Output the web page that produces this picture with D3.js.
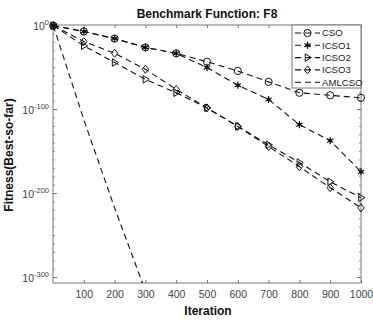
<!DOCTYPE html>
<html><head><meta charset="utf-8">
<script src="https://cdn.jsdelivr.net/npm/d3@7/dist/d3.min.js"></script>
<style>body{margin:0;background:#fff}svg{display:block}text{font-family:Arial,"Liberation Sans",sans-serif}</style>
</head><body><svg id="c" width="373" height="322"></svg>
<script>
// Data: exponents of fitness (log10), iterations
const iterations = [1,100,200,300,400,500,600,700,800,900,1000];
const CSO   = [0,-7,-15.5,-26,-33,-43,-54,-67,-80,-83,-86];
const ICSO1 = [0,-7,-15.5,-26,-33,-50,-71,-88,-118,-137,-174];
const ICSO2 = [0,-24,-44,-64,-80,-98,-120,-142,-163,-186,-205];
const ICSO3 = [0,-19,-33,-52,-76,-98,-120,-144,-168,-193,-217];
const amlIter = [1,100,200,290,300];
const AMLCSO = [0,-112,-217,-306,-317];
const xTicks = [100,200,300,400,500,600,700,800,900,1000];
const yTicks = [0,-100,-200,-300];
const seriesNames = ["CSO","ICSO1","ICSO2","ICSO3","AMLCSO"];
const markers = ["circle","asterisk","triangle","diamond","none"];

const svg = d3.select("#c");
const L=53,R=361,T=25,B=283;
const x = d3.scaleLinear().domain([0,1000]).range([L,R]);
const y = d3.scaleLinear().domain([-306.5,0.7]).range([B,T]);
const axisCol="#777", txtCol="#444";

svg.append("defs").append("clipPath").attr("id","clip")
  .append("rect").attr("x",L).attr("y",T).attr("width",R-L).attr("height",B-T);

// axes box
svg.append("rect").attr("x",L).attr("y",T).attr("width",R-L).attr("height",B-T)
  .attr("fill","none").attr("stroke",axisCol).attr("stroke-width",1);

// x ticks
const xa = svg.append("g").attr("transform",`translate(0,${B})`)
  .call(d3.axisBottom(x).tickValues(xTicks).tickSize(-3).tickPadding(8).tickFormat(d3.format("d")));
xa.select(".domain").remove();
xa.selectAll("line").attr("stroke",axisCol);
xa.selectAll("text").attr("fill",txtCol).attr("font-size",10.5);
const xt = svg.append("g").attr("transform",`translate(0,${T})`)
  .call(d3.axisTop(x).tickValues(xTicks).tickSize(-3).tickFormat(""));
xt.select(".domain").remove(); xt.selectAll("line").attr("stroke",axisCol);

// y ticks major + minor
const minor = d3.range(0,-307,-10);
[[L,1],[R,-1]].forEach(([px,dir])=>{
  const g=svg.append("g");
  g.selectAll("line.mn").data(minor).join("line")
   .attr("x1",px).attr("x2",px+dir*2).attr("y1",d=>y(d)).attr("y2",d=>y(d))
   .attr("stroke",axisCol).attr("stroke-width",0.8);
  g.selectAll("line.mj").data(yTicks).join("line")
   .attr("x1",px).attr("x2",px+dir*4).attr("y1",d=>y(d)).attr("y2",d=>y(d))
   .attr("stroke",axisCol);
});
const yl = svg.append("g");
yTicks.forEach(d=>{
  const t = yl.append("text").attr("x",L-4).attr("y",y(d)+4).attr("text-anchor","end")
    .attr("fill",txtCol).attr("font-size",10.5);
  t.append("tspan").text("10");
  t.append("tspan").attr("dy",-5).attr("font-size",7.5).text(d===0?"0":"-"+(-d));
});

// lines
const line = d3.line().x(d=>x(d[0])).y(d=>y(d[1]));
const plot = svg.append("g").attr("clip-path","url(#clip)");
const all = [CSO,ICSO1,ICSO2,ICSO3];
all.forEach(s=>{
  plot.append("path").datum(iterations.map((it,i)=>[it,s[i]]))
    .attr("d",line).attr("fill","none").attr("stroke","#111").attr("stroke-width",1.1)
    .attr("stroke-dasharray","6,4");
});
plot.append("path").datum(amlIter.map((it,i)=>[it,AMLCSO[i]]))
  .attr("d",line).attr("fill","none").attr("stroke","#111").attr("stroke-width",1.1)
  .attr("stroke-dasharray","6,4");

function drawMarker(g,type,cx,cy){
  if(type==="circle") g.append("circle").attr("cx",cx).attr("cy",cy).attr("r",3.6).attr("fill","none").attr("stroke","#111").attr("stroke-width",1);
  else if(type==="asterisk"){
    const r=3.6;
    [[0,1],[0.87,0.5],[0.87,-0.5]].forEach(([a,b])=>g.append("line").attr("x1",cx-a*r).attr("y1",cy-b*r).attr("x2",cx+a*r).attr("y2",cy+b*r).attr("stroke","#111").attr("stroke-width",1.2));
    g.append("circle").attr("cx",cx).attr("cy",cy).attr("r",1.8).attr("fill","#111");
  } else if(type==="triangle"){
    const r=3.8;
    g.append("path").attr("d",`M${cx-r*0.6},${cy-r}L${cx+r},${cy}L${cx-r*0.6},${cy+r}Z`).attr("fill","none").attr("stroke","#111").attr("stroke-width",1);
  } else if(type==="diamond"){
    const r=4;
    g.append("path").attr("d",`M${cx},${cy-r}L${cx+r*0.8},${cy}L${cx},${cy+r}L${cx-r*0.8},${cy}Z`).attr("fill","none").attr("stroke","#111").attr("stroke-width",1);
  }
}
const mg = svg.append("g");
all.forEach((s,k)=>iterations.forEach((it,i)=>drawMarker(mg,markers[k],x(it),y(s[i]))));

// legend
const lg = svg.append("g");
const lx=292, ly=25, lw=R-lx, lh=63;
lg.append("rect").attr("x",lx).attr("y",ly).attr("width",lw).attr("height",lh)
  .attr("fill","#fff").attr("stroke",axisCol);
seriesNames.forEach((n,i)=>{
  const yy = ly+8+i*12.3;
  lg.append("line").attr("x1",lx+3).attr("x2",lx+28).attr("y1",yy).attr("y2",yy)
    .attr("stroke","#111").attr("stroke-width",1.1).attr("stroke-dasharray","6,4");
  drawMarker(lg,markers[i],lx+15.5,yy);
  lg.append("text").attr("x",lx+30).attr("y",yy+3.4).attr("font-size",9.6).attr("fill","#222").text(n);
});

// labels
svg.append("text").attr("x",207).attr("y",18).attr("text-anchor","middle")
  .attr("font-size",12).attr("font-weight","bold").attr("fill","#111").text("Benchmark Function: F8");
svg.append("text").attr("x",208).attr("y",315).attr("text-anchor","middle")
  .attr("font-size",12).attr("font-weight","bold").attr("fill","#111").text("Iteration");
svg.append("text").attr("transform",`translate(13,155) rotate(-90)`).attr("text-anchor","middle")
  .attr("font-size",12).attr("font-weight","bold").attr("fill","#111").text("Fitness(Best-so-far)");
</script></body></html>
